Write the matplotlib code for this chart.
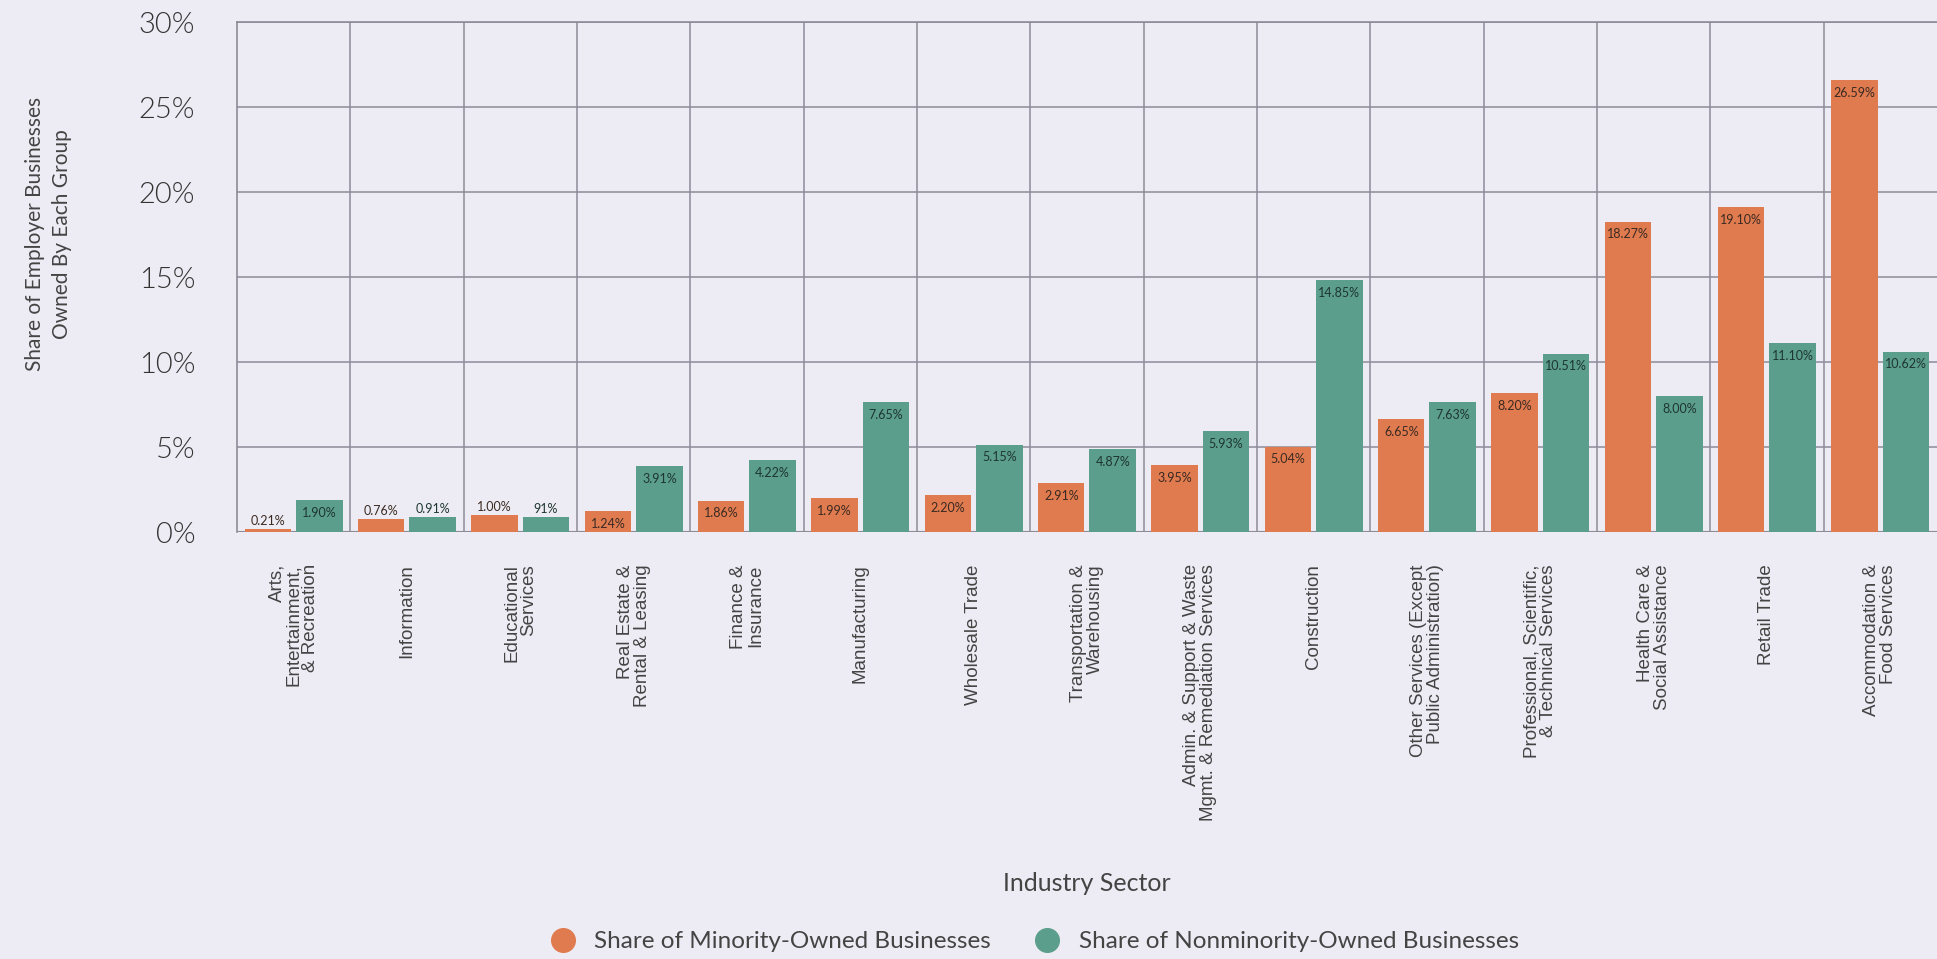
import numpy as np
import matplotlib
matplotlib.use("Agg")
import matplotlib.pyplot as plt
from matplotlib.lines import Line2D

sectors = [
    "Arts,\nEntertainment,\n& Recreation",
    "Information",
    "Educational\nServices",
    "Real Estate &\nRental & Leasing",
    "Finance &\nInsurance",
    "Manufacturing",
    "Wholesale Trade",
    "Transportation &\nWarehousing",
    "Admin. & Support & Waste\nMgmt. & Remediation Services",
    "Construction",
    "Other Services (Except\nPublic Administration)",
    "Professional, Scientific,\n& Technical Services",
    "Health Care &\nSocial Assistance",
    "Retail Trade",
    "Accommodation &\nFood Services",
]
minority = [0.21, 0.76, 1.00, 1.24, 1.86, 1.99, 2.20, 2.91, 3.95, 5.04,
            6.65, 8.20, 18.27, 19.10, 26.59]
nonminority = [1.90, 0.91, 0.91, 3.91, 4.22, 7.65, 5.15, 4.87, 5.93, 14.85,
               7.63, 10.51, 8.00, 11.10, 10.62]
minority_labels = ["0.21%", "0.76%", "1.00%", "1.24%", "1.86%", "1.99%", "2.20%",
                   "2.91%", "3.95%", "5.04%", "6.65%", "8.20%", "18.27%",
                   "19.10%", "26.59%"]
nonminority_labels = ["1.90%", "0.91%", "91%", "3.91%", "4.22%", "7.65%", "5.15%",
                      "4.87%", "5.93%", "14.85%", "7.63%", "10.51%", "8.00%",
                      "11.10%", "10.62%"]

bg = "#edecf4"
orange = "#e07b4f"
teal = "#5c9e8c"
grid_c = "#8c8b98"
txt = "#333333"
light = "Lato"

fig = plt.figure(figsize=(19.37, 9.59), dpi=100, facecolor=bg)
ax = fig.add_axes([0.1223, 0.445, 0.8777, 0.532], facecolor=bg)

x = np.arange(len(sectors))
w = 0.41
off = 0.227
b1 = ax.bar(x - off, minority, w, color=orange, zorder=3)
b2 = ax.bar(x + off, nonminority, w, color=teal, zorder=3)


def put_labels(bars, labels, color):
    for bar, lab in zip(bars, labels):
        h = bar.get_height()
        cx = bar.get_x() + bar.get_width() / 2
        if h < 1.1:
            ax.text(cx, h + 0.12, lab, ha="center", va="bottom", fontsize=9,
                    color=color, family=light, zorder=4)
        else:
            ax.text(cx, h - 0.4, lab, ha="center", va="top", fontsize=9,
                    color=color, family=light, zorder=4)


put_labels(b1, minority_labels, "#3b2a22")
put_labels(b2, nonminority_labels, "#1e3630")

ax.set_xlim(-0.5, len(sectors) - 0.5)
ax.set_ylim(0, 30)
ax.set_yticks(np.arange(0, 31, 5))
ax.set_yticklabels([f"{v}%" for v in range(0, 31, 5)], family=light,
                   fontsize=21, color=txt, fontweight=300)
ax.set_xticks(x)
ax.set_xticklabels(sectors, rotation=90, fontsize=13.5, color="#444444",
                   family="Liberation Sans", va="top", ha="center",
                   multialignment="right", linespacing=1.0)
ax.tick_params(axis="both", length=0)
ax.tick_params(axis="y", pad=30)
ax.tick_params(axis="x", pad=23)

# grid: horizontal at ticks, vertical between groups
for v in range(5, 31, 5):
    ax.axhline(v, color=grid_c, lw=1.1, zorder=1)
for b in np.arange(0.5, len(sectors) - 0.5, 1):
    ax.axvline(b, color=grid_c, lw=1.1, zorder=1)
ax.axhline(0, color=grid_c, lw=1.5, zorder=2)

for s in ["right", "bottom"]:
    ax.spines[s].set_visible(False)
for s in ["top", "left"]:
    ax.spines[s].set_color(grid_c)
    ax.spines[s].set_linewidth(1.2)

ax.set_ylabel("Share of Employer Businesses\nOwned By Each Group", fontsize=15,
              color="#444444", family=light, linespacing=1.45)
ax.yaxis.set_label_coords(-0.097, 0.585)
ax.set_xlabel("Industry Sector", fontsize=18, color="#444444", family=light)
ax.xaxis.set_label_coords(0.5, -0.665)

handles = [
    Line2D([], [], marker="o", ls="", color=orange, markersize=17),
    Line2D([], [], marker="o", ls="", color=teal, markersize=17),
]
fig.legend(handles, ["Share of Minority-Owned Businesses",
                     "Share of Nonminority-Owned Businesses"],
           loc="center", bbox_to_anchor=(0.531, 0.018), ncol=2, frameon=False,
           prop={"family": light, "size": 17.5},
           labelcolor="#444444", handletextpad=0.3, columnspacing=1.3)

fig.savefig("out.png", dpi=100, facecolor=bg)
